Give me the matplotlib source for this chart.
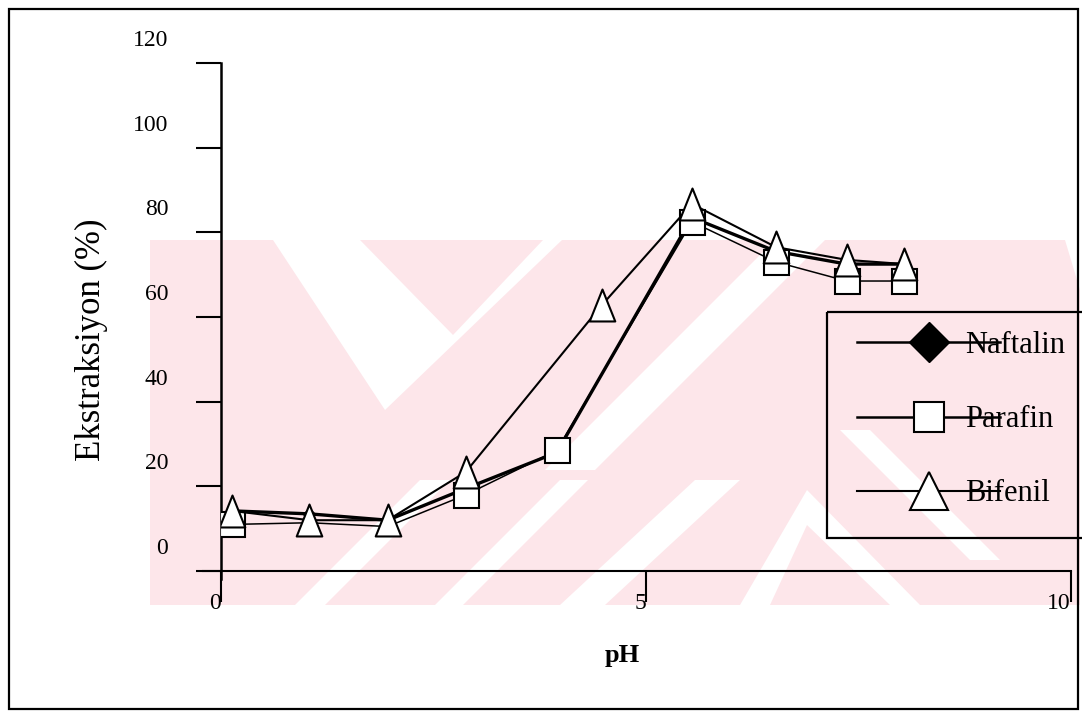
import matplotlib
matplotlib.use("Agg")
import matplotlib.pyplot as plt
from matplotlib.lines import Line2D
from matplotlib.patches import Polygon, Rectangle
from matplotlib.path import Path
from matplotlib.transforms import ScaledTranslation

# data
ph = [0.13, 1.04, 1.96, 2.88, 3.95, 5.54, 6.53, 7.36, 8.04]
ph_bifenil = [0.13, 1.04, 1.96, 2.88, 4.48, 5.54, 6.53, 7.36, 8.04]
naftalin = [14.2, 13.5, 12.0, 19.5, 28.0, 83.5, 75.5, 72.5, 72.5]
parafin = [11.0, 11.4, 10.5, 18.0, 28.5, 82.5, 73.0, 68.5, 68.5]
bifenil = [14.2, 12.0, 12.0, 23.4, 62.8, 86.7, 76.5, 73.5, 72.5]
labels = ["Naftalin", "Parafin", "Bifenil"]
x_ticks = [0, 5, 10]
y_ticks = [0, 20, 40, 60, 80, 100, 120]

plt.rcParams["font.family"] = ["Liberation Serif", "DejaVu Serif"]

W, H = 1082, 713
fig = plt.figure(figsize=(W / 100, H / 100), dpi=100)

# background: pink scan watermark + page border (pixel coords)
bg = fig.add_axes([0, 0, 1, 1], zorder=-1)
bg.set_xlim(0, W)
bg.set_ylim(H, 0)
bg.axis("off")
pink = "#fde6ea"
bg.add_patch(Rectangle((150, 240), 930, 365, color=pink, lw=0))
white_cuts = [
    [(273, 240), (360, 240), (453, 335), (543, 240), (562, 240), (385, 410)],
    [(775, 240), (825, 240), (595, 470), (545, 470)],
    [(420, 480), (450, 480), (325, 605), (295, 605)],
    [(560, 480), (588, 480), (463, 605), (435, 605)],
    [(695, 480), (740, 480), (605, 605), (560, 605)],
    [(807, 490), (920, 605), (890, 605), (807, 525), (770, 605), (740, 605)],
    [(840, 430), (870, 430), (1000, 560), (970, 560)],
    [(1065, 240), (1080, 240), (1080, 290)],
]
for pts in white_cuts:
    bg.add_patch(Polygon(pts, closed=True, color="white", lw=0))
bg.add_patch(Rectangle((9, 9), 1069, 700, fill=False, ec="black", lw=1.6))
bg.add_patch(Rectangle((827, 312), 300, 226, fill=False, ec="black", lw=1.6))

ax = fig.add_axes([221 / W, 1 - 571 / H, 850 / W, 508 / H])
ax.patch.set_visible(False)
ax.set_xlim(0, 10)
ax.set_ylim(0, 120)

tri = Path([(-0.8, -1), (0.8, -1), (0, 1), (-0.8, -1)], closed=True)

ax.plot(ph, naftalin, color="black", lw=2.4, marker="D", ms=6,
        mfc="black", mec="black", zorder=3)
ax.plot(ph, parafin, color="black", lw=1.1, marker="s", ms=18,
        mfc="white", mec="black", mew=1.5, markevery=[0, 3, 4, 5, 6, 7, 8],
        zorder=4)
ax.plot(ph_bifenil, bifenil, color="black", lw=1.5, marker=tri, ms=23,
        mfc="white", mec="black", mew=1.5, zorder=5)

for s in ["top", "right"]:
    ax.spines[s].set_visible(False)
ax.spines["left"].set_bounds(-2, 120)
ax.spines["bottom"].set_bounds(-0.21, 10)
ax.spines["left"].set_linewidth(1.8)
ax.spines["bottom"].set_linewidth(1.5)

ax.set_yticks(y_ticks)
ax.set_xticks(x_ticks)
ax.tick_params(axis="y", direction="out", length=18, width=1.5, pad=20,
               labelsize=17)
ax.tick_params(axis="x", direction="out", length=22, width=1.5, pad=1.5,
               labelsize=17)
shift = ScaledTranslation(0, 0.25, fig.dpi_scale_trans)
for lab in ax.get_yticklabels():
    lab.set_transform(lab.get_transform() + shift)
plt.setp(ax.get_xticklabels(), ha="right", va="center")

ax.set_ylabel("Ekstraksiyon (%)", fontsize=25)
ax.yaxis.set_label_coords(-0.133, 0.455)
ax.set_xlabel("pH", fontsize=19, fontweight="bold")
ax.xaxis.set_label_coords(0.472, -0.144)

handles = [
    Line2D([], [], color="black", lw=1.8, marker="D", ms=20, mfc="black", mec="black"),
    Line2D([], [], color="black", lw=1.8, marker="s", ms=22, mfc="white", mec="black", mew=1.5),
    Line2D([], [], color="black", lw=1.5, marker="^", ms=28, mfc="white", mec="black", mew=1.5),
]
fig.legend(handles, labels, loc="upper left", frameon=False, fontsize=22,
           bbox_to_anchor=(857 / W, 1 - 331 / H), borderpad=0, borderaxespad=0,
           handlelength=4.68, handletextpad=-1.15, labelspacing=1.48)

fig.savefig("out.png", dpi=100)
